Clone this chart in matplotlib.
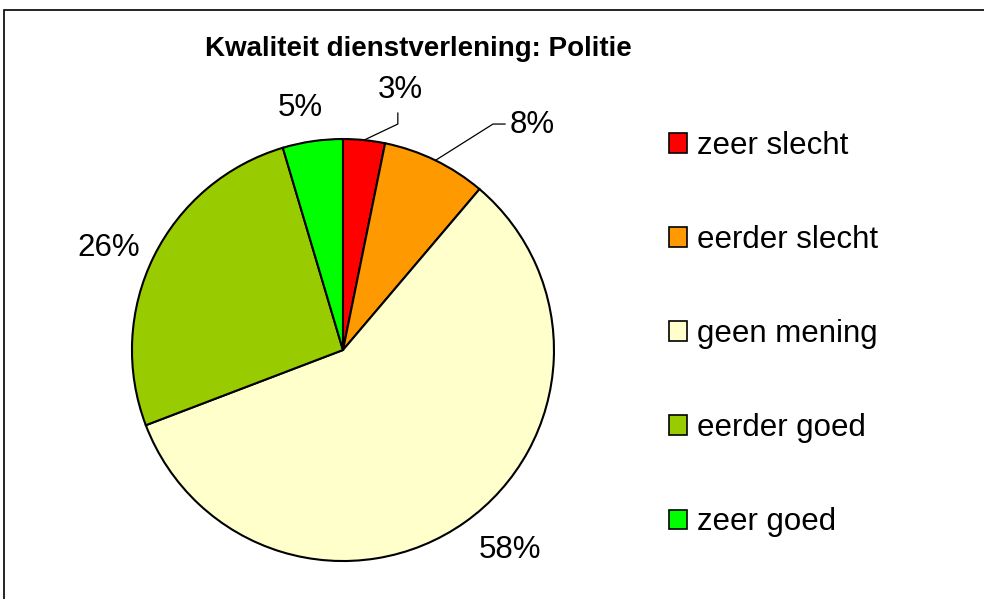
import matplotlib.pyplot as plt
from matplotlib.patches import Patch, Rectangle

plt.rcParams['font.family'] = ['Liberation Sans', 'DejaVu Sans']

categories = ['zeer slecht', 'eerder slecht', 'geen mening', 'eerder goed', 'zeer goed']
values = [3.2, 8.0, 58.0, 26.2, 4.6]
labels = ['3%', '8%', '58%', '26%', '5%']
colors = ['#FF0000', '#FF9900', '#FFFFCC', '#99CC00', '#00FF00']

fig = plt.figure(figsize=(9.84, 5.99), dpi=100)
ax = fig.add_axes([0.1341, 0.0634, 0.4289, 0.7045])

wedges, _ = ax.pie(values, colors=colors, startangle=90, counterclock=False,
                   radius=1, wedgeprops=dict(edgecolor='black', linewidth=1.5))
ax.set_xlim(-1, 1)
ax.set_ylim(-1, 1)
ax.set_aspect('equal')
ax.axis('off')

# label placement (data coords, radius = 1)
fs = 22.5
ax.text(0.27, 1.232, labels[0], ha='center', va='center', fontsize=fs, clip_on=False)
ax.plot([0.10, 0.26, 0.26], [0.995, 1.071, 1.123], color='black', lw=0.9, clip_on=False)
ax.text(0.79, 1.065, labels[1], ha='left', va='center', fontsize=fs, clip_on=False)
ax.plot([0.44, 0.711, 0.768], [0.90, 1.071, 1.071], color='black', lw=0.9, clip_on=False)
ax.text(0.79, -0.948, labels[2], ha='center', va='center', fontsize=fs, clip_on=False)
ax.text(-1.109, 0.483, labels[3], ha='center', va='center', fontsize=fs, clip_on=False)
ax.text(-0.204, 1.147, labels[4], ha='center', va='center', fontsize=fs, clip_on=False)

fig.text(418 / 984, 1 - 49 / 599, 'Kwaliteit dienstverlening: Politie',
         ha='center', va='center', fontsize=20, fontweight='bold')

handles = [Patch(facecolor=c, edgecolor='black', linewidth=1.2) for c in colors]
fig.legend(handles, categories, loc='upper left', bbox_to_anchor=(669 / 984, 1 - 131 / 599),
           frameon=False, fontsize=fs, handlelength=0.58, handleheight=0.58,
           handletextpad=0.33, labelspacing=2.05, borderpad=0, borderaxespad=0)

# outer frame (only top and left visible)
fig.patches.append(Rectangle((4 / 984, -0.1), 1.2, 1.1 - 10 / 599,
                             transform=fig.transFigure, fill=False,
                             edgecolor='black', linewidth=1.2))

fig.savefig('out.png', dpi=100)
